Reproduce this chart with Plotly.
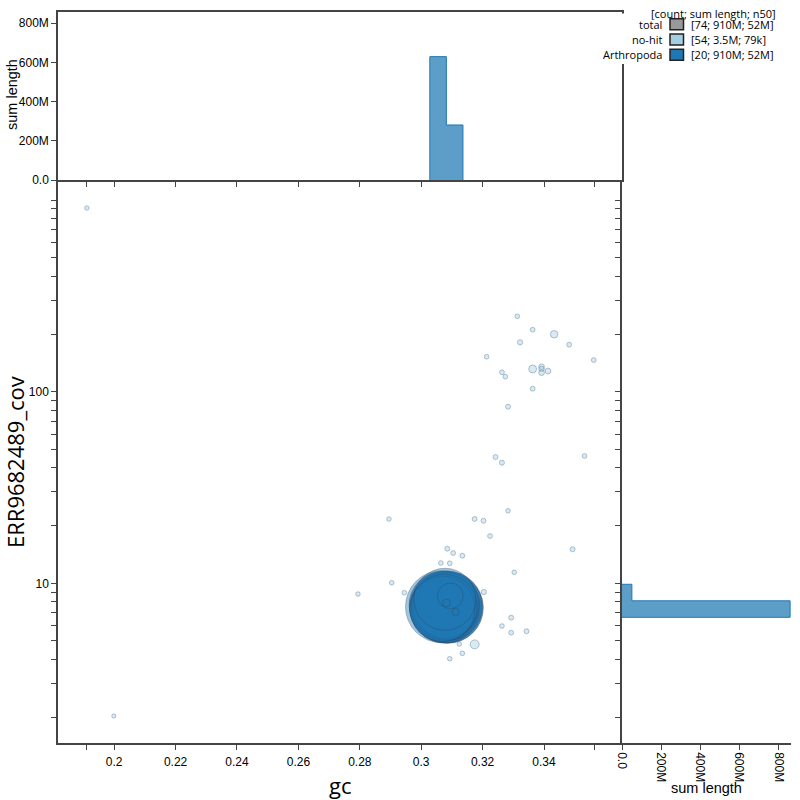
import numpy as np
import plotly.graph_objects as go

# ---------------- data ----------------
nohit_gc = [0.1911, 0.1999, 0.2794, 0.2895, 0.2904, 0.2945, 0.3085, 0.3104, 0.3134, 0.3064,
            0.3093, 0.3303, 0.3124, 0.3180, 0.3293, 0.3263, 0.3293, 0.3343, 0.3174, 0.3124,
            0.3134, 0.3093, 0.3242, 0.3263, 0.3532, 0.3283, 0.3174, 0.3203, 0.3224, 0.3493,
            0.3313, 0.3363, 0.3433, 0.3322, 0.3482, 0.3213, 0.3562, 0.3263, 0.3274, 0.3363,
            0.3392, 0.3392, 0.3392, 0.3413, 0.3363, 0.3283,
            0.3060, 0.3072, 0.3085, 0.3052, 0.3095, 0.3065, 0.3080, 0.3204]
nohit_cov = [909.6, 2.03, 8.79, 21.65, 10.07, 8.93, 15.15, 14.39, 13.93, 12.76,
             12.72, 11.41, 10.92, 8.25, 6.615, 5.985, 5.525, 5.62, 4.80, 4.82,
             4.31, 4.04, 45.6, 42.6, 46.2, 23.9, 21.65, 21.2, 17.65, 15.05,
             247.5, 210.7, 199.4, 181.1, 176.0, 152.3, 146.3, 126.3, 119.8, 131.4,
             135.1, 131.5, 125.7, 128.2, 103.7, 83.5,
             7.0, 8.0, 7.8, 7.6, 7.2, 6.8, 8.5, 9.01]
nohit_len = [25e3, 20e3, 30e3, 28e3, 30e3, 35e3, 45e3, 40e3, 45e3, 35e3,
             38e3, 30e3, 40e3, 40e3, 45e3, 35e3, 40e3, 45e3, 450e3, 30e3,
             35e3, 30e3, 45e3, 50e3, 35e3, 30e3, 45e3, 45e3, 40e3, 50e3,
             35e3, 40e3, 250e3, 60e3, 40e3, 35e3, 40e3, 40e3, 35e3, 300e3,
             79e3, 78e3, 90e3, 100e3, 45e3, 45e3,
             200e3, 150e3, 120e3, 30e3, 35e3, 30e3, 40e3, 60e3]

arth_gc = [0.3066, 0.3078, 0.3074, 0.3080, 0.3070, 0.3076, 0.3081, 0.3072, 0.3079, 0.3075,
           0.3069, 0.3077, 0.3086, 0.3088, 0.3085, 0.3090, 0.3087, 0.3095, 0.3082, 0.3112]
arth_cov = [7.55, 7.45, 7.60, 7.38, 7.70, 7.30, 7.62, 7.42, 7.75, 7.50,
            7.35, 8.25, 7.50, 7.40, 7.65, 7.55, 7.32, 8.60, 7.90, 7.10]
arth_len = [60e6, 57e6, 55e6, 54e6, 52e6, 52e6, 52e6, 52e6, 52e6, 50e6,
            49e6, 44e6, 59e6, 56e6, 55e6, 52e6, 52e6, 6.5e6, 0.3e6, 0.2e6]

gc_tick_vals = [0.1911, 0.2, 0.22, 0.24, 0.26, 0.28, 0.3, 0.32, 0.34, 0.3563]
gc_tick_text = ["", "0.2", "0.22", "0.24", "0.26", "0.28", "0.3", "0.32", "0.34", ""]
cov_tick_vals = [2, 3, 4, 5, 6, 7, 8, 9, 10, 20, 30, 40, 50, 60, 70, 80, 90, 100,
                 200, 300, 400, 500, 600, 700, 800, 900, 1000]
cov_tick_text = [""] * 8 + ["10"] + [""] * 8 + ["100"] + [""] * 9
len_tick_vals = [0, 200e6, 400e6, 600e6, 800e6]
len_tick_text = ["0.0", "200M", "400M", "600M", "800M"]

legend_names = ["total", "no-hit", "Arthropoda"]
legend_stats = ["[74; 910M; 52M]", "[54; 3.5M; 79k]", "[20; 910M; 52M]"]
legend_colors = ["#999999", "#a6cee3", "#1f78b4"]

# ---------------- binning ----------------
GC_START, GC_SIZE = 0.3028, 0.0054
LC_START, LC_SIZE = 0.8225, 0.0862


def binned(values, weights, start, size):
    v = np.asarray(values, float)
    w = np.asarray(weights, float)
    idx = np.floor((v - start) / size).astype(int)
    lo, hi = idx.min(), idx.max()
    edges = start + size * np.arange(lo, hi + 2)
    sums = np.zeros(hi - lo + 1)
    for i, ww in zip(idx, w):
        sums[i - lo] += ww
    return edges, sums


def step(edges, sums):
    a = [edges[0]]
    b = [0.0]
    for i, s in enumerate(sums):
        a += [edges[i], edges[i + 1]]
        b += [s, s]
    a.append(edges[-1])
    b.append(0.0)
    return a, b


def msize(lengths):
    return 3 + 0.0089 * np.sqrt(np.asarray(lengths, float))


fig = go.Figure()

# main scatter
fig.add_trace(go.Scatter(
    x=nohit_gc, y=nohit_cov, mode="markers", xaxis="x", yaxis="y",
    marker=dict(size=msize(nohit_len), color="rgba(166,206,227,0.6)",
                line=dict(color="rgba(70,110,145,0.6)", width=1)),
    showlegend=False, hoverinfo="skip"))
order = np.argsort(arth_len)[::-1]
fig.add_trace(go.Scatter(
    x=[arth_gc[i] for i in order], y=[arth_cov[i] for i in order],
    mode="markers", xaxis="x", yaxis="y",
    marker=dict(size=msize([arth_len[i] for i in order]), color="rgba(31,120,180,0.6)",
                line=dict(color="rgba(40,70,100,0.5)", width=1)),
    showlegend=False, hoverinfo="skip"))

# top histogram (gc)
e, s = binned(arth_gc, arth_len, GC_START, GC_SIZE)
hx, hy = step(e, s)
fig.add_trace(go.Scatter(x=hx, y=hy, mode="lines", fill="toself", xaxis="x2", yaxis="y2",
                         line=dict(color="#1f78b4", width=1),
                         fillcolor="rgba(31,120,180,0.72)", showlegend=False, hoverinfo="skip"))

# right histogram (coverage, log bins)
e, s = binned(np.log10(arth_cov), arth_len, LC_START, LC_SIZE)
hy, hx = step(e, s)
fig.add_trace(go.Scatter(x=hx, y=[10 ** v for v in hy], mode="lines", fill="toself",
                         xaxis="x3", yaxis="y3",
                         line=dict(color="#1f78b4", width=1),
                         fillcolor="rgba(31,120,180,0.72)", showlegend=False, hoverinfo="skip"))

W = 800.0
def px(x):
    return x / W
def py(y):
    return 1 - y / W

tickfont = dict(family="Liberation Sans, Arial", size=12, color="#000")
axline = dict(showline=True, linecolor="#444", linewidth=1.5, ticks="outside", ticklen=5,
              tickcolor="#444", tickwidth=1, showgrid=False, zeroline=False, tickfont=tickfont,
              automargin=False)

X0, X1, X2 = 58, 622, 791
Y0, Y1, Y2 = 12, 180, 743

fig.update_layout(
    width=800, height=800, margin=dict(l=0, r=0, t=0, b=0, autoexpand=False),
    paper_bgcolor="white", plot_bgcolor="white", showlegend=False,
    xaxis=dict(domain=[px(X0), px(X1)], anchor="y", range=[0.1817, 0.3654],
               tickvals=gc_tick_vals, ticktext=gc_tick_text, ticklabelstandoff=2, **axline),
    yaxis=dict(domain=[py(Y2), py(Y1)], anchor="x", type="log", range=[0.1665, 3.105],
               tickvals=cov_tick_vals, ticktext=cov_tick_text, **axline),
    xaxis2=dict(domain=[px(X0), px(X1)], anchor="y2", range=[0.1817, 0.3654],
                tickvals=gc_tick_vals, showticklabels=False, mirror=True, **axline),
    yaxis2=dict(domain=[py(Y1), py(Y0)], anchor="x2", range=[0, 857e6],
                tickvals=len_tick_vals, ticktext=len_tick_text, mirror=True, **axline),
    xaxis3=dict(domain=[px(X1), px(X2)], anchor="y3", range=[0, 864e6],
                tickvals=len_tick_vals, ticktext=len_tick_text, tickangle=90, **axline),
    yaxis3=dict(domain=[py(Y2), py(Y1)], anchor="x3", type="log", range=[0.1665, 3.105],
                tickvals=cov_tick_vals, showticklabels=False, **axline),
)

ann = []
shapes = []
title_font = dict(family="Open Sans", size=22, color="#000")
ann.append(dict(text="gc", x=px(340), y=py(785), xref="paper", yref="paper",
                showarrow=False, font=title_font, xanchor="center", yanchor="middle"))
ann.append(dict(text="ERR9682489_cov", x=px(15), y=py(462), xref="paper", yref="paper",
                showarrow=False, font=title_font, textangle=-90,
                xanchor="center", yanchor="middle"))
small_title = dict(family="Liberation Sans, Arial", size=14.5, color="#000")
ann.append(dict(text="sum length", x=px(12), y=py(95), xref="paper", yref="paper",
                showarrow=False, font=small_title, textangle=-90,
                xanchor="center", yanchor="middle"))
ann.append(dict(text="sum length", x=px(706.5), y=py(788), xref="paper", yref="paper",
                showarrow=False, font=small_title, xanchor="center", yanchor="middle"))

# legend
shapes.append(dict(type="rect", xref="paper", yref="paper", x0=px(598), x1=px(800),
                   y0=py(64), y1=py(13.5), fillcolor="white", line=dict(width=0),
                   layer="above"))
leg_font = dict(family="Open Sans", size=11, color="#000")
ann.append(dict(text="[count; sum length; n50]", x=px(778), y=py(14), xref="paper",
                yref="paper", showarrow=False, font=leg_font, xanchor="right",
                yanchor="middle"))
rows = [24.3, 39.5, 54.7]
for name, stat, col, ry in zip(legend_names, legend_stats, legend_colors, rows):
    ann.append(dict(text=name, x=px(664), y=py(ry), xref="paper", yref="paper",
                    showarrow=False, font=leg_font, xanchor="right", yanchor="middle"))
    ann.append(dict(text=stat, x=px(689), y=py(ry), xref="paper", yref="paper",
                    showarrow=False, font=leg_font, xanchor="left", yanchor="middle"))
    shapes.append(dict(type="rect", xref="paper", yref="paper", x0=px(670), x1=px(683.5),
                       y0=py(ry + 5.5), y1=py(ry - 5.5), fillcolor=col,
                       line=dict(color="#222", width=1.5), layer="above"))

fig.update_layout(annotations=ann, shapes=shapes)
fig.write_html("out.html")
